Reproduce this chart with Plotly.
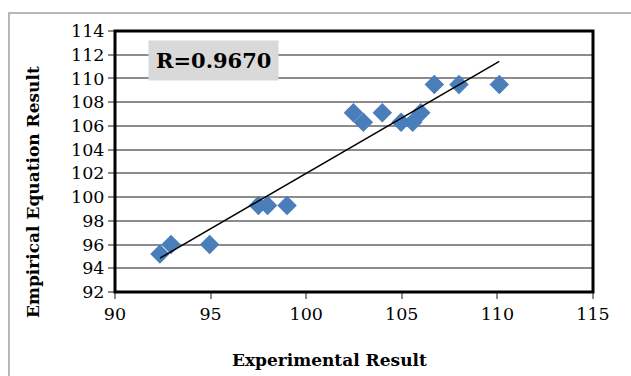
import numpy as np
import plotly.graph_objects as go

experimental = [92.35, 92.93, 94.95, 97.5, 97.98, 99.0, 102.47, 102.99, 103.98,
                104.96, 105.57, 105.99, 106.7, 107.99, 110.1]
empirical = [95.2, 96.0, 96.0, 99.3, 99.3, 99.3, 107.1, 106.3, 107.1,
             106.3, 106.3, 107.1, 109.5, 109.5, 109.5]
r_label = "R=0.9670"
x_title = "Experimental Result"
y_title = "Empirical Equation Result"

slope, intercept = np.polyfit(experimental, empirical, 1)
tx = [min(experimental), max(experimental)]
ty = [slope * v + intercept for v in tx]

fig = go.Figure()
fig.add_trace(go.Scatter(x=experimental, y=empirical, mode="markers",
                         marker=dict(symbol="diamond", size=15, color="#4A7EBB",
                                     line=dict(width=0)),
                         showlegend=False))
fig.add_trace(go.Scatter(x=tx, y=ty, mode="lines",
                         line=dict(color="black", width=1.5), showlegend=False))

tickfont = dict(family="DejaVu Serif", size=17.5, color="black")
titlefont = dict(family="DejaVu Serif", size=17, color="black")

fig.update_layout(
    width=631, height=376,
    margin=dict(l=115, r=38, t=31, b=84),
    paper_bgcolor="white", plot_bgcolor="white",
    xaxis=dict(range=[90, 115], tickvals=[90, 95, 100, 105, 110, 115],
               showgrid=False, zeroline=False, ticks="outside", ticklen=6,
               tickcolor="#8c8c8c", tickwidth=1.5, tickfont=tickfont),
    yaxis=dict(range=[92, 114], dtick=2, showgrid=True, gridcolor="#8c8c8c",
               gridwidth=1.5, zeroline=False, ticks="outside", ticklen=6,
               tickcolor="#8c8c8c", tickwidth=1.5, tickfont=tickfont),
    shapes=[
        dict(type="rect", xref="paper", yref="paper", x0=0, x1=1, y0=0, y1=1,
             line=dict(color="black", width=3)),
        dict(type="rect", xref="paper", yref="paper", x0=-0.2218, x1=1.3,
             y0=-0.5, y1=1.069, line=dict(color="#a0a0a0", width=1.5), layer="below"),
    ],
    annotations=[
        dict(text="<b>" + r_label + "</b>", xref="paper", yref="paper",
             x=0.069, y=0.964, xanchor="left", yanchor="top", showarrow=False,
             bgcolor="#d9d9d9", borderpad=7,
             font=dict(family="DejaVu Serif", size=21, color="black")),
        dict(text="<b>" + x_title + "</b>", xref="paper", yref="paper",
             x=(329 - 115) / 478, y=-(360 - 292) / 261, xanchor="center", yanchor="middle",
             showarrow=False, font=titlefont),
        dict(text="<b>" + y_title + "</b>", xref="paper", yref="paper",
             x=(33 - 115) / 478, y=1 - (192 - 31) / 261, xanchor="center", yanchor="middle",
             textangle=-90, showarrow=False, font=titlefont),
    ],
)

fig.write_html("out.html")
